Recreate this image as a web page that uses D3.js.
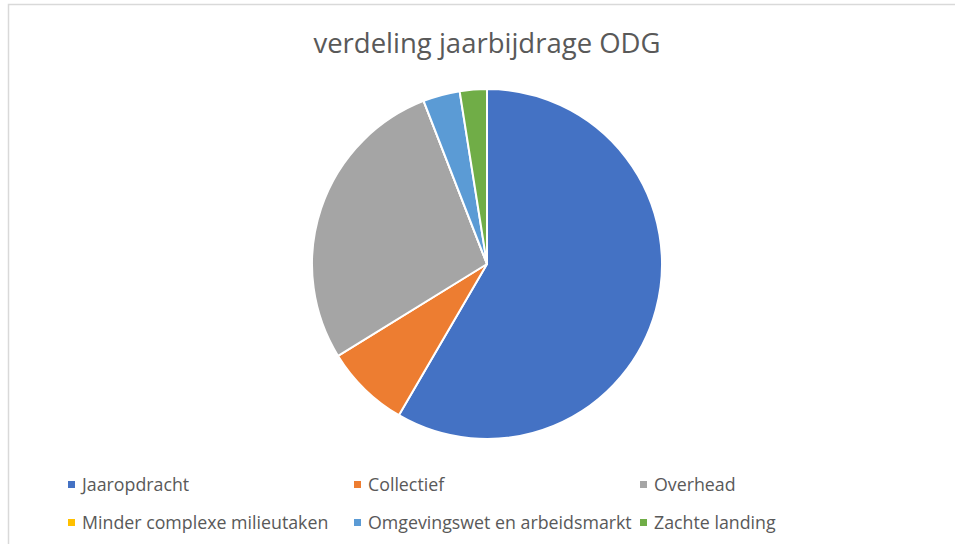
<!DOCTYPE html>
<html>
<head>
<meta charset="utf-8">
<script src="https://cdn.jsdelivr.net/npm/d3@7"></script>
<style>
  body { margin: 0; background: #fff; }
  svg { display: block; font-family: 'Open Sans', sans-serif; }
</style>
</head>
<body>
<svg id="pie-chart" width="955" height="544"></svg>
<script>
// data (share of the yearly contribution, %)
const categories = ['Jaaropdracht', 'Collectief', 'Overhead',
    'Minder complexe milieutaken', 'Omgevingswet en arbeidsmarkt', 'Zachte landing'];
const shares = [58.4, 7.8, 27.9, 0, 3.4, 2.5];
const colors = ['#4472C4', '#ED7D31', '#A5A5A5', '#FFC000', '#5B9BD5', '#70AD47'];
const title = 'verdeling jaarbijdrage ODG';

const svg = d3.select('svg#pie-chart');
const width = +svg.attr('width');
const height = +svg.attr('height');

const data = categories.map((c, i) => ({name: c, value: shares[i]}));

// chart frame
svg.append('rect')
    .attr('x', 8.5).attr('y', 4.5)
    .attr('width', width + 10).attr('height', height + 10)
    .attr('fill', '#fff')
    .attr('stroke', '#d9d9d9')
    .attr('stroke-width', 1.5);

svg.append('text')
    .attr('x', 487).attr('y', 53)
    .attr('text-anchor', 'middle')
    .attr('fill', '#595959')
    .attr('font-size', 27.5)
    .text(title);

const color = d3.scaleOrdinal().domain(categories).range(colors);

const pie = d3.pie().sort(null).value(d => d.value);
const arc = d3.arc().innerRadius(0).outerRadius(175);

const g = svg.append('g')
    .attr('transform', 'translate(487, 264)');

g.selectAll('path').data(pie(data))
    .enter().append('path')
    .attr('d', arc)
    .attr('fill', d => color(d.data.name))
    .attr('stroke', '#fff')
    .attr('stroke-width', 2)
    .attr('stroke-linejoin', 'round');

// legend: 3 columns, 2 rows
const colX = d3.scalePoint().domain([0, 1, 2]).range([68, 640]);
const rowY = d3.scalePoint().domain([0, 1]).range([484.5, 522.5]);

const legend = svg.append('g').selectAll('g').data(categories)
    .enter().append('g')
    .attr('transform', (d, i) => `translate(${colX(i % 3)}, ${rowY(Math.floor(i / 3))})`);

legend.append('rect')
    .attr('x', 0).attr('y', -3.5)
    .attr('width', 7).attr('height', 7)
    .attr('fill', d => color(d));

legend.append('text')
    .attr('x', 14).attr('y', 6)
    .attr('fill', '#595959')
    .attr('font-size', 17.8)
    .text(d => d);
</script>
</body>
</html>
